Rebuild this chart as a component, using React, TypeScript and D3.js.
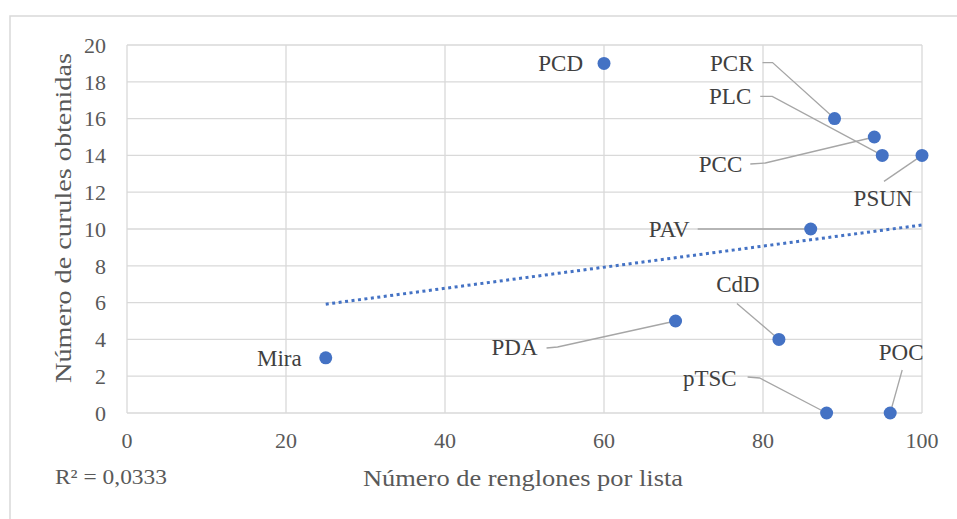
import React from 'react';
import * as d3 from 'd3';

// values
const parties = ['PCD', 'PCR', 'PCC', 'PLC', 'PSUN', 'PAV', 'Mira', 'PDA', 'CdD', 'pTSC', 'POC'];
const renglones = [60, 89, 94, 95, 100, 86, 25, 69, 82, 88, 96];
const curules = [19, 16, 15, 14, 14, 10, 3, 5, 4, 0, 0];
const xTicks = [0, 20, 40, 60, 80, 100];
const yTicks = [0, 2, 4, 6, 8, 10, 12, 14, 16, 18, 20];
const r2Label = 'R² = 0,0333';

// label placement, pixel offsets from the point
type LabelPos = { dx: number; dy: number; anchor: 'start' | 'middle' | 'end'; leader: number[][] | null };
const labelLayout: Record<string, LabelPos> = {
  PCD: { dx: -21, dy: 0, anchor: 'end', leader: null },
  PCR: { dx: -81, dy: -56, anchor: 'end', leader: [[9, 0], [19, 0]] },
  PLC: { dx: -131, dy: -59, anchor: 'end', leader: [[9, 0], [21, 0]] },
  PCC: { dx: -132, dy: 27, anchor: 'end', leader: [[8, 0], [23, -1]] },
  PSUN: { dx: -39, dy: 43, anchor: 'middle', leader: [[1, -17]] },
  PAV: { dx: -121, dy: 0, anchor: 'end', leader: [[8, 0]] },
  Mira: { dx: -24, dy: 0, anchor: 'end', leader: null },
  PDA: { dx: -138, dy: 26, anchor: 'end', leader: [[9, 1], [20, 0]] },
  CdD: { dx: -41, dy: -55, anchor: 'middle', leader: [[-1, 19]] },
  pTSC: { dx: -90, dy: -35, anchor: 'end', leader: [[11, -1], [23, 0]] },
  POC: { dx: 11, dy: -61, anchor: 'middle', leader: [[1, 18]] },
};

const W = 957;
const H = 519;
const font = '"Liberation Serif", "Times New Roman", serif';
const textColor = '#595959';
const blue = '#4472C4';

export default function App() {
  const x = d3.scaleLinear().domain([0, 100]).range([127, 922]);
  const y = d3.scaleLinear().domain([0, 20]).range([413, 45]);

  // linear trendline (least squares)
  const mx = d3.mean(renglones)!;
  const my = d3.mean(curules)!;
  const sxy = d3.sum(renglones, (v, i) => (v - mx) * (curules[i] - my));
  const sxx = d3.sum(renglones, (v) => (v - mx) * (v - mx));
  const slope = sxy / sxx;
  const icpt = my - slope * mx;
  const x0 = d3.min(renglones)!;
  const x1 = d3.max(renglones)!;
  const trend = d3.line<number>().x((v) => x(v)).y((v) => y(icpt + slope * v))([x0, x1]);

  return (
    <div style={{ position: 'absolute', left: 0, top: 0 }}>
      <svg width={W} height={H} style={{ display: 'block', fontFamily: font }}>
        <rect x={0} y={0} width={W} height={H} fill="#fff" />
        <rect x={10} y={16} width={W + 20} height={H + 20} fill="none" stroke="#d9d9d9" strokeWidth={1.5} />

        {/* grid */}
        {yTicks.map((t) => (
          <line key={'gy' + t} x1={x(0)} x2={x(100)} y1={y(t)} y2={y(t)} stroke="#d9d9d9" strokeWidth={1.3} />
        ))}
        {xTicks.map((t) => (
          <line key={'gx' + t} x1={x(t)} x2={x(t)} y1={y(0)} y2={y(20)} stroke="#d9d9d9" strokeWidth={1.3} />
        ))}

        {/* tick labels */}
        {yTicks.map((t) => (
          <text key={'ty' + t} x={106} y={y(t)} dy="0.35em" textAnchor="end" fontSize={22} fill={textColor}>
            {t}
          </text>
        ))}
        {xTicks.map((t) => (
          <text key={'tx' + t} x={x(t)} y={440} dy="0.35em" textAnchor="middle" fontSize={22} fill={textColor}>
            {t}
          </text>
        ))}

        {/* trendline */}
        <path d={trend || ''} fill="none" stroke={blue} strokeWidth={3} strokeDasharray="3 3.5" />

        {/* leader lines */}
        {parties.map((p, i) => {
          const L = labelLayout[p];
          if (!L.leader) return null;
          const px = x(renglones[i]);
          const py = y(curules[i]);
          const tx = px + L.dx;
          const ty = py + L.dy;
          const pts = L.leader.map(([a, b]) => [tx + a, ty + b] as [number, number]);
          pts.push([px, py]);
          return <path key={'ld' + p} d={d3.line()(pts) || ''} fill="none" stroke="#a6a6a6" strokeWidth={1.3} />;
        })}

        {/* points */}
        {parties.map((p, i) => (
          <circle key={'pt' + p} cx={x(renglones[i])} cy={y(curules[i])} r={6.5} fill={blue} />
        ))}

        {/* data labels */}
        {parties.map((p, i) => {
          const L = labelLayout[p];
          return (
            <text
              key={'lb' + p}
              x={x(renglones[i]) + L.dx}
              y={y(curules[i]) + L.dy}
              dy="0.35em"
              textAnchor={L.anchor}
              fontSize={23}
              fill="#404040"
            >
              {p}
            </text>
          );
        })}

        {/* axis titles */}
        <text
          x={523}
          y={478}
          dy="0.35em"
          textAnchor="middle"
          fontSize={23}
          fill={textColor}
          textLength={320}
          lengthAdjust="spacingAndGlyphs"
        >
          Número de renglones por lista
        </text>
        <text
          transform="translate(63,218) rotate(-90)"
          dy="0.35em"
          textAnchor="middle"
          fontSize={23}
          fill={textColor}
          textLength={330}
          lengthAdjust="spacingAndGlyphs"
        >
          Número de curules obtenidas
        </text>
        <text x={55} y={476} dy="0.35em" fontSize={22} fill={textColor} textLength={112} lengthAdjust="spacingAndGlyphs">
          {r2Label}
        </text>
      </svg>
    </div>
  );
}
